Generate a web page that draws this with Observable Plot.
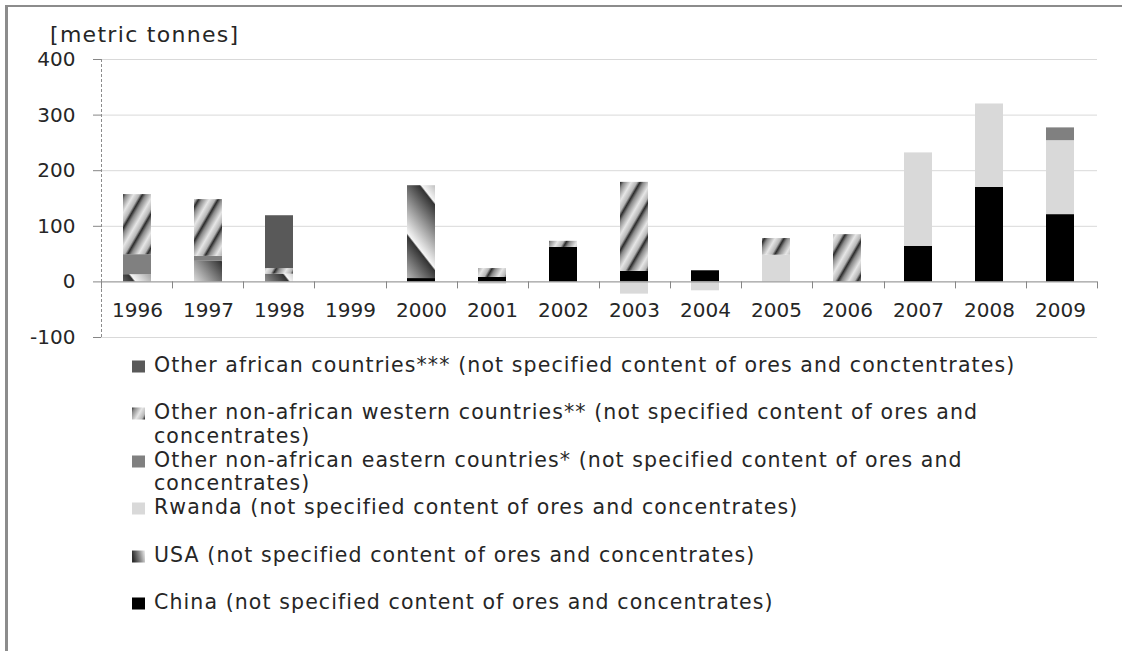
<!DOCTYPE html>
<html>
<head>
<meta charset="utf-8">
<script src="https://cdn.jsdelivr.net/npm/d3@7"></script>
<script src="https://cdn.jsdelivr.net/npm/@observablehq/plot@0.6"></script>
<style>
  body { margin: 0; background: #fff; }
  #wrap { position: relative; width: 1122px; height: 651px; overflow: hidden; font-family: "DejaVu Sans", sans-serif; color: #262626; background: #fff; }
  #frame { position: absolute; left: 5px; top: 5px; width: 1200px; height: 700px; border-left: 3px solid #8c8c8c; border-top: 2px solid #8c8c8c; }
  #unit { position: absolute; left: 50px; top: 23px; font-size: 22px; letter-spacing: 1.3px; line-height: 24px; white-space: nowrap; }
  #chart { position: absolute; left: 0; top: 0; }
  #legend { position: absolute; left: 132px; top: 354px; }
  .item { height: 47.4px; display: flex; align-items: flex-start; font-size: 20.5px; letter-spacing: 1.1px; line-height: 23.7px; white-space: nowrap; }
  .sw { width: 13px; height: 13px; margin-top: 6px; margin-right: 9px; flex: none; }
</style>
</head>
<body>
<svg width="0" height="0" style="position:absolute">
  <defs>
    <linearGradient id="gWest" gradientUnits="userSpaceOnUse" x1="0" y1="0" x2="14.7" y2="8.5" spreadMethod="repeat">
      <stop offset="0" stop-color="#2b2b2b"/>
      <stop offset="0.18" stop-color="#8a8a8a"/>
      <stop offset="0.55" stop-color="#e6e6e6"/>
      <stop offset="0.85" stop-color="#b5b5b5"/>
      <stop offset="1" stop-color="#2b2b2b"/>
    </linearGradient>
    <linearGradient id="gUSA" gradientUnits="userSpaceOnUse" x1="420" y1="252" x2="388" y2="277" spreadMethod="repeat">
      <stop offset="0" stop-color="#333333"/>
      <stop offset="0.5" stop-color="#999999"/>
      <stop offset="0.96" stop-color="#f5f5f5"/>
      <stop offset="1" stop-color="#333333"/>
    </linearGradient>
    <linearGradient id="gUSAkey" x1="0" y1="0.2" x2="1" y2="0">
      <stop offset="0" stop-color="#2e2e2e"/>
      <stop offset="0.55" stop-color="#8f8f8f"/>
      <stop offset="1" stop-color="#f0f0f0"/>
    </linearGradient>
  </defs>
</svg>
<div id="wrap">
  <div id="frame"></div>
  <div id="chart"></div>
  <div id="unit">[metric tonnes]</div>
  <div id="legend"></div>
</div>
<script>
// ---- data ----
const years = ["1996","1997","1998","1999","2000","2001","2002","2003","2004","2005","2006","2007","2008","2009"];
const seriesNames = [
  "China (not specified content of ores and concentrates)",
  "USA (not specified content of ores and concentrates)",
  "Rwanda (not specified content of ores and concentrates)",
  "Other non-african eastern countries* (not specified content of ores and concentrates)",
  "Other non-african western countries** (not specified content of ores and concentrates)",
  "Other african countries*** (not specified content of ores and conctentrates)"
];
const china   = [0, 0, 0, 0, 6, 8, 62, 19, 20, 0, 0, 64, 170, 121];
const usa     = [13, 37, 14, 0, 167, 0, 0, 0, 0, 0, 0, 0, 0, 0];
const rwanda  = [0, 0, 0, 0, 0, -4, 0, -22, -16, 48, 0, 168, 150, 133];
const eastern = [36, 9, 0, 0, 0, 0, 0, 0, 0, 0, 0, 0, 0, 23];
const western = [108, 102, 10, 0, 0, 16, 11, 160, 0, 30, 85, 0, 0, 0];
const african = [0, 0, 95, 0, 0, 0, 0, 0, 0, 0, 0, 0, 0, 0];
const yTicks = [-100, 0, 100, 200, 300, 400];
const gridTicks = [-100, 100, 200, 300, 400];
// legend lines (as shown, top to bottom)
const legendLines = [
  ["Other african countries*** (not specified content of ores and conctentrates)"],
  ["Other non-african western countries** (not specified content of ores and", "concentrates)"],
  ["Other non-african eastern countries* (not specified content of ores and", "concentrates)"],
  ["Rwanda (not specified content of ores and concentrates)"],
  ["USA (not specified content of ores and concentrates)"],
  ["China (not specified content of ores and concentrates)"]
];
const seriesFills = ["#000000", "url(#gUSA)", "#d9d9d9", "#808080", "url(#gWest)", "#595959"];
const legendFills = ["#595959", "url(#gWest)", "#808080", "#d9d9d9", "url(#gUSAkey)", "#000000"];

const allSeries = [china, usa, rwanda, eastern, western, african];
const rows = [];
allSeries.forEach((vals, i) => vals.forEach((v, j) => {
  if (v !== 0) rows.push({year: years[j], series: seriesNames[i], value: v});
}));

// vertical dashed y-axis line
function yAxisLine(index, scales, values, dims) {
  const g = d3.create("svg:g");
  g.append("line")
    .attr("x1", dims.marginLeft + 0.5).attr("x2", dims.marginLeft + 0.5)
    .attr("y1", scales.y(yTicks[yTicks.length - 1])).attr("y2", scales.y(yTicks[0]))
    .attr("stroke", "#8c8c8c").attr("stroke-dasharray", "3,2");
  return g.node();
}
// tick marks between categories on the zero line
function xBoundaryTicks(index, scales, values, dims) {
  const g = d3.create("svg:g");
  const inner = dims.width - dims.marginLeft - dims.marginRight;
  const y0 = scales.y(0);
  for (let i = 0; i <= years.length; i++) {
    const xx = Math.round(dims.marginLeft + i * inner / years.length) + 0.5;
    g.append("line").attr("x1", xx).attr("x2", xx).attr("y1", y0).attr("y2", y0 + 7)
      .attr("stroke", "#868686");
  }
  return g.node();
}

const chart = Plot.plot({
  width: 1122,
  height: 360,
  marginLeft: 101,
  marginRight: 25,
  marginTop: 59,
  marginBottom: 23,
  x: {domain: years, paddingInner: 0.6, paddingOuter: 0.3, axis: null},
  y: {domain: [-100, 400], axis: null},
  color: {domain: seriesNames, range: seriesFills},
  style: {fontFamily: "'DejaVu Sans', sans-serif", color: "#262626", background: "transparent", overflow: "visible"},
  marks: [
    Plot.gridY(gridTicks, {stroke: "#d9d9d9", strokeOpacity: 1}),
    Plot.barY(rows, {x: "year", y: "value", fill: "series", order: seriesNames}),
    Plot.ruleY([0], {stroke: "#868686"}),
    xBoundaryTicks,
    yAxisLine,
    Plot.axisY(yTicks, {tickSize: 8, tickPadding: 18, stroke: "#868686", fill: "#262626", fontSize: 20, label: null, tickFormat: d => String(d)}),
    Plot.text(years, {x: d => d, y: () => 0, dy: 29, fontSize: 20, fill: "#262626"})
  ]
});
document.getElementById("chart").appendChild(chart);

// legend
const legend = d3.select("#legend");
legendLines.forEach((lines, i) => {
  const item = legend.append("div").attr("class", "item");
  const sw = item.append("svg").attr("class", "sw").attr("width", 13).attr("height", 13);
  sw.append("rect").attr("width", 13).attr("height", 12).attr("y", 0.5).attr("fill", legendFills[i]);
  const t = item.append("div");
  t.html(lines.join("<br>"));
});
</script>
</body>
</html>
